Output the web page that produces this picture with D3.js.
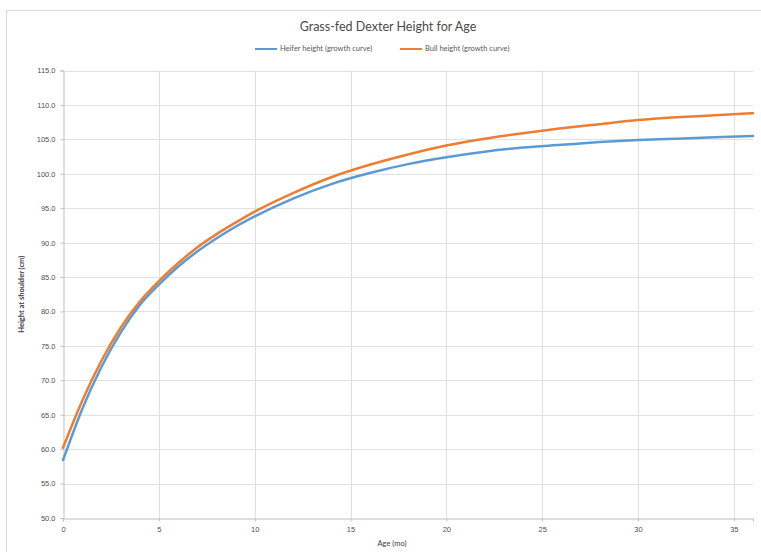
<!DOCTYPE html>
<html>
<head>
<meta charset="utf-8">
<script src="https://cdn.jsdelivr.net/npm/d3@7"></script>
<style>
  body { margin: 0; background: #fff; }
  svg { display: block; font-family: Lato, "Liberation Sans", sans-serif; }
</style>
</head>
<body>
<svg></svg>
<script>
const width = 761;
const height = 552;

// ages in months
const ages = [0, 1, 2, 3, 4, 5, 6, 7, 8, 9, 10, 12, 14, 16, 18, 20, 22, 24, 26, 28, 30, 32, 34, 36];

// heights at shoulder (cm)
const heiferHeight = [58.4, 65.8, 71.9, 76.9, 80.9, 83.9, 86.5, 88.7, 90.6, 92.3, 93.8, 96.4, 98.5, 100.1, 101.4, 102.4, 103.2, 103.8, 104.2, 104.6, 104.9, 105.1, 105.3, 105.5];
const bullHeight = [60.2, 67.0, 72.8, 77.6, 81.4, 84.4, 87.0, 89.3, 91.2, 92.9, 94.5, 97.2, 99.5, 101.3, 102.8, 104.1, 105.1, 105.9, 106.6, 107.2, 107.8, 108.2, 108.5, 108.8];

const seriesNames = ["Heifer height (growth curve)", "Bull height (growth curve)"];
const seriesColors = ["#5B9BD5", "#ED7D31"];

const xTicks = [0, 5, 10, 15, 20, 25, 30, 35];
const yTicks = [50, 55, 60, 65, 70, 75, 80, 85, 90, 95, 100, 105, 110, 115];

/* -------------------------
   SVG + FRAME
--------------------------*/
const svg = d3.select("svg")
  .attr("width", width)
  .attr("height", height);

svg.append("rect")
  .attr("x", 6.5).attr("y", 10.5)
  .attr("width", 800).attr("height", 600)
  .attr("fill", "#fff")
  .attr("stroke", "#d9d9d9");

const margin = { left: 63, right: 8, top: 70.5, bottom: 34 };
const plotW = width - margin.left - margin.right;
const plotH = height - margin.top - margin.bottom;

const x = d3.scaleLinear().domain([0, 36]).range([margin.left, margin.left + plotW]);
const y = d3.scaleLinear().domain([50, 115]).range([margin.top + plotH, margin.top]);

/* -------------------------
   GRID
--------------------------*/
svg.append("g")
  .selectAll("line")
  .data(yTicks.slice(1))
  .enter()
  .append("line")
  .attr("x1", x(0)).attr("x2", x(36))
  .attr("y1", d => Math.round(y(d)) + 0.5)
  .attr("y2", d => Math.round(y(d)) + 0.5)
  .attr("stroke", "#e0e0e0");

svg.append("g")
  .selectAll("line")
  .data(xTicks.slice(1))
  .enter()
  .append("line")
  .attr("y1", y(50)).attr("y2", y(115))
  .attr("x1", d => Math.round(x(d)) + 0.5)
  .attr("x2", d => Math.round(x(d)) + 0.5)
  .attr("stroke", "#e0e0e0");

/* -------------------------
   AXES
--------------------------*/
const xAxis = svg.append("g")
  .attr("transform", `translate(0,${Math.round(y(50)) + 0.5})`)
  .call(d3.axisBottom(x).tickValues(xTicks).tickSize(3).tickPadding(5).tickFormat(d3.format("d")));

const yAxis = svg.append("g")
  .attr("transform", `translate(${Math.round(x(0)) + 0.5},0)`)
  .call(d3.axisLeft(y).tickValues(yTicks).tickSize(3).tickPadding(5).tickFormat(d3.format(".1f")));

[xAxis, yAxis].forEach(a => {
  a.select(".domain").attr("stroke", "#bfbfbf");
  a.selectAll(".tick line").attr("stroke", "#bfbfbf");
  a.selectAll(".tick text")
    .attr("fill", "#505050")
    .style("font-size", "7.5px");
});

/* -------------------------
   LINES
--------------------------*/
const line = d3.line()
  .x((d, i) => x(ages[i]))
  .y(d => y(d))
  .curve(d3.curveMonotoneX);

[heiferHeight, bullHeight].forEach((vals, i) => {
  svg.append("path")
    .datum(vals)
    .attr("d", line)
    .attr("fill", "none")
    .attr("stroke", seriesColors[i])
    .attr("stroke-width", 2.5)
    .attr("stroke-linecap", "round");
});

/* -------------------------
   TITLE / LABELS
--------------------------*/
svg.append("text")
  .attr("x", 388).attr("y", 31)
  .attr("text-anchor", "middle")
  .attr("fill", "#4a4a4a")
  .style("font-size", "12.5px")
  .text("Grass-fed Dexter Height for Age");

svg.append("text")
  .attr("transform", `translate(24,${(y(50) + y(115)) / 2}) rotate(-90)`)
  .attr("text-anchor", "middle")
  .attr("fill", "#404040")
  .style("font-size", "7.5px")
  .style("font-weight", "bold")
  .text("Height at shoulder (cm)");

svg.append("text")
  .attr("x", 392).attr("y", 546)
  .attr("text-anchor", "middle")
  .attr("fill", "#404040")
  .style("font-size", "7.5px")
  .text("Age (mo)");

/* -------------------------
   LEGEND
--------------------------*/
const legendX = [255, 400];
const legend = svg.append("g")
  .selectAll("g")
  .data(seriesNames)
  .enter()
  .append("g")
  .attr("transform", (d, i) => `translate(${legendX[i]},49)`);

legend.append("line")
  .attr("x1", 0).attr("x2", 22)
  .attr("stroke", (d, i) => seriesColors[i])
  .attr("stroke-width", 2);

legend.append("text")
  .attr("x", 25).attr("dy", "0.33em")
  .attr("fill", "#595959")
  .style("font-size", "7.5px")
  .text(d => d);
</script>
</body>
</html>
